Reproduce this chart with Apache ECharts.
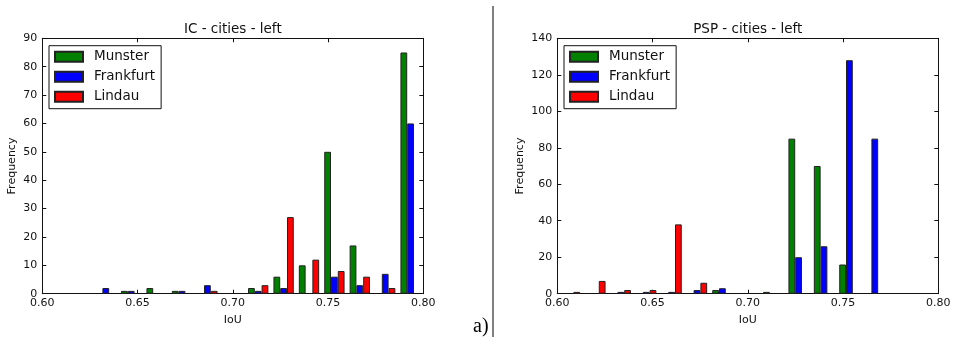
<!DOCTYPE html>
<html>
<head>
<meta charset="utf-8">
<script src="https://cdn.jsdelivr.net/npm/echarts@6/dist/echarts.min.js"></script>
<style>html,body{margin:0;padding:0;background:#fff;}#c{width:955px;height:337px;}</style>
</head>
<body>
<div id="c"></div>
<script>
// 15 histogram bins over IoU 0.60 - 0.80
const bins = ['b0','b1','b2','b3','b4','b5','b6','b7','b8','b9','b10','b11','b12','b13','b14'];
const seriesNames = ['Munster', 'Frankfurt', 'Lindau'];
const colors = ['#008000', '#0000ff', '#ff0000'];

// IC - cities - left
const icMunster   = [0, 0, 0, 1, 2, 1, 0, 0, 2, 6, 10, 50, 17, 0, 85];
const icFrankfurt = [0, 0, 2, 1, 0, 1, 3, 0, 1, 2, 0, 6, 3, 7, 60];
const icLindau    = [0, 0, 0, 0, 0, 0, 1, 0, 3, 27, 12, 8, 6, 2, 0];

// PSP - cities - left
const pspMunster   = [0, 0, 0, 0, 0, 0, 2, 0, 1, 85, 70, 16, 0, 0, 0];
const pspFrankfurt = [0, 0, 1, 1, 1, 2, 3, 0, 0, 20, 26, 128, 85, 0, 0];
const pspLindau    = [1, 7, 2, 2, 38, 6, 0, 0, 0, 0, 0, 0, 0, 0, 0];

const xTicks = { min: 0.6, max: 0.8, interval: 0.05 };
const icY = { min: 0, max: 90, interval: 10 };
const pspY = { min: 0, max: 140, interval: 20 };
const titles = ['IC - cities - left', 'PSP - cities - left'];

const font = 'DejaVu Sans';
const ink = '#111';
const grids = [
  { left: 42.3, top: 38.3, width: 381, height: 255.4 },
  { left: 557.3, top: 38.3, width: 381, height: 255.4 }
];

const xAxes = [], yAxes = [], series = [], legends = [], graphics = [];
[0, 1].forEach(g => {
  // hidden category axis for bins (bars)
  xAxes.push({ type: 'category', gridIndex: g, data: bins, show: false, boundaryGap: true });
  // bottom value axis
  xAxes.push({
    type: 'value', gridIndex: g, position: 'bottom', min: xTicks.min, max: xTicks.max, interval: xTicks.interval,
    axisLine: { show: true, onZero: false, lineStyle: { color: ink, width: 1 } },
    axisTick: { show: true, inside: true, length: 4, lineStyle: { color: ink } },
    axisLabel: { margin: 4, fontFamily: font, fontSize: 11, color: ink, formatter: v => v.toFixed(2) },
    splitLine: { show: false },
    name: 'IoU', nameLocation: 'middle', nameGap: 21,
    nameTextStyle: { fontFamily: font, fontSize: 11, color: ink }
  });
  // top value axis (ticks only)
  xAxes.push({
    type: 'value', gridIndex: g, position: 'top', min: xTicks.min, max: xTicks.max, interval: xTicks.interval,
    axisLine: { show: true, onZero: false, lineStyle: { color: ink, width: 1 } },
    axisTick: { show: true, inside: true, length: 4, lineStyle: { color: ink } },
    axisLabel: { show: false }, splitLine: { show: false }
  });
  const yr = g === 0 ? icY : pspY;
  yAxes.push({
    type: 'value', gridIndex: g, position: 'left', min: yr.min, max: yr.max, interval: yr.interval,
    axisLine: { show: true, onZero: false, lineStyle: { color: ink, width: 1 } },
    axisTick: { show: true, inside: true, length: 4, lineStyle: { color: ink } },
    axisLabel: { margin: 5, fontFamily: font, fontSize: 11, color: ink },
    splitLine: { show: false },
    name: 'Frequency', nameLocation: 'middle', nameGap: g === 0 ? 25 : 32,
    nameTextStyle: { fontFamily: font, fontSize: 11, color: ink }
  });
  yAxes.push({
    type: 'value', gridIndex: g, position: 'right', min: yr.min, max: yr.max, interval: yr.interval,
    axisLine: { show: true, onZero: false, lineStyle: { color: ink, width: 1 } },
    axisTick: { show: true, inside: true, length: 4, lineStyle: { color: ink } },
    axisLabel: { show: false }, splitLine: { show: false }
  });
  const data = g === 0 ? [icMunster, icFrankfurt, icLindau] : [pspMunster, pspFrankfurt, pspLindau];
  data.forEach((d, i) => {
    series.push({
      type: 'bar', name: seriesNames[i], xAxisIndex: g * 3, yAxisIndex: g * 2,
      data: d.map(v => (v === 0 ? '-' : v)), barCategoryGap: '20%', barGap: '0%',
      itemStyle: { color: colors[i], borderColor: '#222', borderWidth: 1 },
      emphasis: { disabled: true }, z: 1
    });
  });
  legends.push({
    data: seriesNames, orient: 'vertical', left: g === 0 ? 49 : 564, top: 45.7,
    icon: 'rect', itemWidth: 28, itemHeight: 10, itemGap: 4,
    padding: [3, 6, 4, 5], borderColor: ink, borderWidth: 1, backgroundColor: '#fff',
    textStyle: { fontFamily: font, fontSize: 13.5, color: ink, lineHeight: 16, padding: [0, 0, 0, 6] },
    selectedMode: false
  });
  graphics.push({
    type: 'text', x: grids[g].left + grids[g].width / 2, y: 29,
    style: { text: titles[g], fontFamily: font, fontSize: 13.5, fill: ink, textAlign: 'center', textVerticalAlign: 'middle' }
  });
});

graphics.push({ type: 'line', shape: { x1: 493, y1: 6, x2: 493, y2: 337 }, style: { stroke: '#000', lineWidth: 1 } });
graphics.push({
  type: 'text', x: 473, y: 337,
  style: { text: 'a)', fontFamily: 'Liberation Serif', fontSize: 20, fill: '#000', textAlign: 'left', textVerticalAlign: 'bottom' }
});

const chart = echarts.init(document.getElementById('c'), null, { renderer: 'canvas' });
chart.setOption({
  animation: false,
  backgroundColor: '#fff',
  grid: grids,
  xAxis: xAxes,
  yAxis: yAxes,
  series: series,
  legend: legends,
  graphic: graphics
});
</script>
</body>
</html>
